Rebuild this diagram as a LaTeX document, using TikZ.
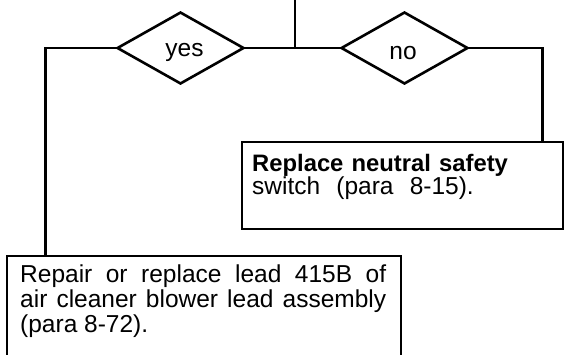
\documentclass[tikz,border=0pt]{standalone}
\usepackage{fontspec}
\setmainfont{Liberation Sans}
\usetikzlibrary{shapes.geometric}
\begin{document}
\begin{tikzpicture}[x=1pt,y=-1pt,
  line/.style={line width=2.6pt},
  diam/.style={diamond,draw,line width=2.6pt,minimum width=127pt,minimum height=72pt,inner sep=0pt},
  boxn/.style={rectangle,draw,line width=2.6pt,inner sep=0pt},
  lbl/.style={inner sep=0pt,font=\fontsize{24.5}{21.5}\selectfont},
  rtxt/.style={inner sep=0pt,font=\fontsize{24.5}{23.5}\selectfont},
  btxt/.style={inner sep=0pt,font=\fontsize{24.5}{25}\selectfont}]
\useasboundingbox (0,0) rectangle (567,354);
% decision diamonds
\node[diam] (yes) at (180.5,48) {};
\node[diam] (no) at (404.5,48) {};
\node[lbl,anchor=base] (yeslbl) at (184.5,56) {yes};
\node[lbl,anchor=base] (nolbl) at (403,59) {no};
% action boxes
\node[boxn,minimum width=321pt,minimum height=87pt] (rbox) at (402.5,185.5) {};
\node[boxn,minimum width=394pt,minimum height=104pt] (bbox) at (204,308) {};
% texts
\node[rtxt,anchor=base west,text width=300pt,align=left] (rtext) at (252,171)
  {{\fontsize{23.8}{23.5}\selectfont\bfseries Replace neutral safety}\\switch\hspace{8pt} (para\hspace{8pt} 8-15).};
\node[btxt,anchor=base west,text width=366pt,align=justify] (btext) at (20,282)
  {Repair or replace lead 415B of\linebreak air cleaner blower lead assembly\linebreak (para 8-72).};
% connectors
\coordinate (top) at (295,-3);
\coordinate (junc) at (295,48);
\draw[line] (top) -- (junc);
\draw[line] (yes.east) -- (no.west);
\draw[line] (yes.west) -| ([xshift=40pt]bbox.north west);
\draw[line] (no.east) -| ([xshift=-22pt]rbox.north east);
\end{tikzpicture}
\end{document}
